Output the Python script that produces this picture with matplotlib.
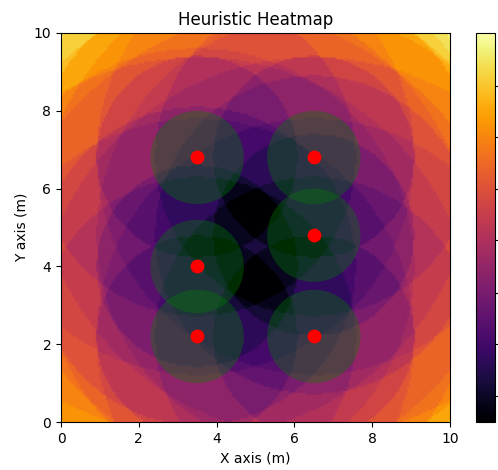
import matplotlib
matplotlib.use("Agg")
import matplotlib.pyplot as plt
import numpy as np

# anchor positions (m)
anchor_x = [3.5, 6.5, 3.5, 6.5, 3.5, 6.5]
anchor_y = [6.8, 6.8, 4.0, 4.8, 2.2, 2.2]
ring_radii = [2.58, 4.08, 5.58, 7.15, 8.5, 9.56]
ring_steps = [1.5, 1.3, 1.0, 1.0, 1.0, 1.0]
circle_radius = 1.2
# where the colorbar ticks sit, as a share of the bar height
tick_shares = [0.068, 0.2, 0.332, 0.468, 0.6, 0.732, 0.864]

grid = 200
xs = (np.arange(grid) + 0.5) * 10 / grid
xx, yy = np.meshgrid(xs, xs)
field = np.zeros_like(xx)
for ax_, ay_ in zip(anchor_x, anchor_y):
    d = np.hypot(xx - ax_, yy - ay_)
    for r, step in zip(ring_radii, ring_steps):
        field += (d > r) * step

fig = plt.figure(figsize=(4.98, 4.70), dpi=100)
ax = fig.add_axes([61 / 498, 1 - 422 / 470, 389 / 498, 389 / 470])
im = ax.imshow(field, origin="lower", extent=[0, 10, 0, 10], cmap="inferno")

for px, py in zip(anchor_x, anchor_y):
    ax.add_patch(plt.Circle((px, py), circle_radius, color="green", alpha=0.35, linewidth=0))
ax.scatter(anchor_x, anchor_y, c="red", s=80, zorder=3)

ax.set_xlim(0, 10)
ax.set_ylim(0, 10)
ax.set_title("Heuristic Heatmap")
ax.set_xlabel("X axis (m)")
ax.set_ylabel("Y axis (m)")

cax = fig.add_axes([476 / 498, 1 - 422 / 470, 19 / 498, 389 / 470])
cb = fig.colorbar(im, cax=cax)
lo, hi = im.get_clim()
# the tick labels fall outside the saved picture in the reference
cb.set_ticks([lo + s * (hi - lo) for s in tick_shares], labels=[""] * len(tick_shares))

fig.savefig("out.png", dpi=100)
